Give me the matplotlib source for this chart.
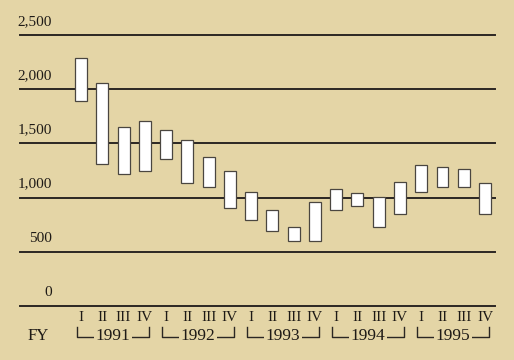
import matplotlib
matplotlib.use("Agg")
import matplotlib.pyplot as plt

years = ["1991", "1992", "1993", "1994", "1995"]
quarters = ["I", "II", "III", "IV"]
highs = [2287, 2060, 1655, 1707,
         1627, 1529, 1379, 1241,
         1056, 890, 725, 964,
         1075, 1047, 1001, 1145,
         1305, 1280, 1262, 1139]
lows = [1888, 1314, 1216, 1243,
        1354, 1136, 1096, 900,
        795, 691, 599, 596,
        890, 921, 725, 850,
        1056, 1102, 1102, 847]
yticks = [0, 500, 1000, 1500, 2000, 2500]
ytick_labels = ["0", "500", "1,000", "1,500", "2,000", "2,500"]

bg = "#E4D5A6"
font = "Liberation Serif"

fig = plt.figure(figsize=(5.14, 3.60), dpi=100, facecolor=bg)
ax = fig.add_axes([20/514, 54/360, 475/514, 271/360])
ax.set_facecolor(bg)
ax.set_xlim(-2.87, 19.47)
ax.set_ylim(0, 2500)
for s in ax.spines.values():
    s.set_visible(False)
ax.set_xticks([])
ax.set_yticks([])

for v, lab in zip(yticks, ytick_labels):
    ax.axhline(v, color="#2b2723", lw=1.4, zorder=1, clip_on=False)
    ax.annotate(lab, xy=(-1.36, v), xytext=(0, 5), textcoords="offset points",
                ha="right", va="bottom", fontsize=11, family=font,
                color="#1e1a16", annotation_clip=False)

n = len(highs)
xs = list(range(n))
ax.bar(xs, [h - l for h, l in zip(highs, lows)], bottom=lows, width=0.56,
       color="white", edgecolor="#4a4640", linewidth=0.9, zorder=3)

tr = ax.get_xaxis_transform()
for i in xs:
    ax.text(i, -0.042, quarters[i % 4], transform=tr, ha="center", va="center",
            fontsize=11, family=font, color="#1e1a16")

ax.text(-2.0, -0.112, "FY", transform=tr, ha="center", va="center",
        fontsize=12, family=font, color="#1e1a16")

for k, yr in enumerate(years):
    x0 = 4 * k - 0.2
    x1 = 4 * k + 3.2
    ax.plot([x0, x0, x1, x1], [-0.076, -0.113, -0.113, -0.076], transform=tr,
            color="#2b2723", lw=1.0, clip_on=False, zorder=2)
    ax.text(4 * k + 1.5, -0.111, yr, transform=tr, ha="center", va="center",
            fontsize=12.5, family=font, color="#1e1a16", zorder=4,
            bbox=dict(boxstyle="square,pad=0.1", facecolor=bg, edgecolor="none"))

fig.savefig("out.png", dpi=100, facecolor=bg)
